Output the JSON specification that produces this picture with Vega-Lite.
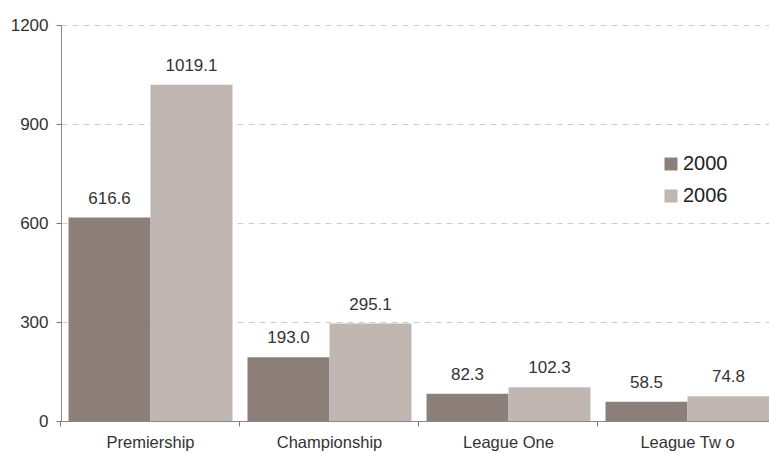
{
  "$schema": "https://vega.github.io/schema/vega-lite/v6.json",
  "width": 716,
  "height": 396,
  "autosize": {"type": "none"},
  "padding": {"left": 61, "top": 25, "right": 0, "bottom": 33},
  "background": "white",
  "config": {
    "view": {"stroke": null},
    "font": "Liberation Sans",
    "axis": {"labelFont": "Liberation Sans", "labelColor": "#333333"}
  },
  "data": {
    "values": [
      {"league": "Premiership", "year": "2000", "value": 616.6},
      {"league": "Premiership", "year": "2006", "value": 1019.1},
      {"league": "Championship", "year": "2000", "value": 193.0},
      {"league": "Championship", "year": "2006", "value": 295.1},
      {"league": "League One", "year": "2000", "value": 82.3},
      {"league": "League One", "year": "2006", "value": 102.3},
      {"league": "League Tw o", "year": "2000", "value": 58.5},
      {"league": "League Tw o", "year": "2006", "value": 74.8}
    ]
  },
  "encoding": {
    "x": {
      "field": "league", "type": "nominal", "sort": null,
      "scale": {"paddingInner": 0.084, "paddingOuter": 0.042},
      "axis": {
        "title": null, "labelAngle": 0, "labelFontSize": 16.5, "labelPadding": 8,
        "bandPosition": -0.046, "tickSize": 5, "tickColor": "#777777",
        "domainColor": "#888888", "grid": false
      }
    },
    "xOffset": {"field": "year", "type": "nominal", "scale": {"paddingInner": 0, "paddingOuter": 0}},
    "y": {
      "field": "value", "type": "quantitative",
      "scale": {"domain": [0, 1200], "nice": false},
      "axis": {
        "title": null, "values": [0, 300, 600, 900, 1200], "format": "d", "labelFontSize": 17,
        "labelPadding": 8, "tickSize": 5, "tickColor": "#777777", "domainColor": "#888888",
        "grid": true, "gridDash": [6, 5], "gridColor": "#cccccc"
      }
    }
  },
  "layer": [
    {
      "mark": {"type": "bar"},
      "encoding": {
        "color": {
          "field": "year", "type": "nominal",
          "scale": {"domain": ["2000", "2006"], "range": ["#8c7f7a", "#c0b7b3"]},
          "legend": {
            "title": null, "orient": "none", "legendX": 600, "legendY": 129,
            "symbolType": "square", "symbolSize": 169, "symbolStrokeWidth": 0,
            "labelFontSize": 20, "labelColor": "#222222", "rowPadding": 12, "labelOffset": 2
          }
        }
      }
    },
    {
      "mark": {"type": "text", "baseline": "alphabetic", "dy": -14, "fontSize": 17, "color": "#333333"},
      "encoding": {
        "text": {"field": "value", "type": "quantitative", "format": ".1f"}
      }
    }
  ]
}
